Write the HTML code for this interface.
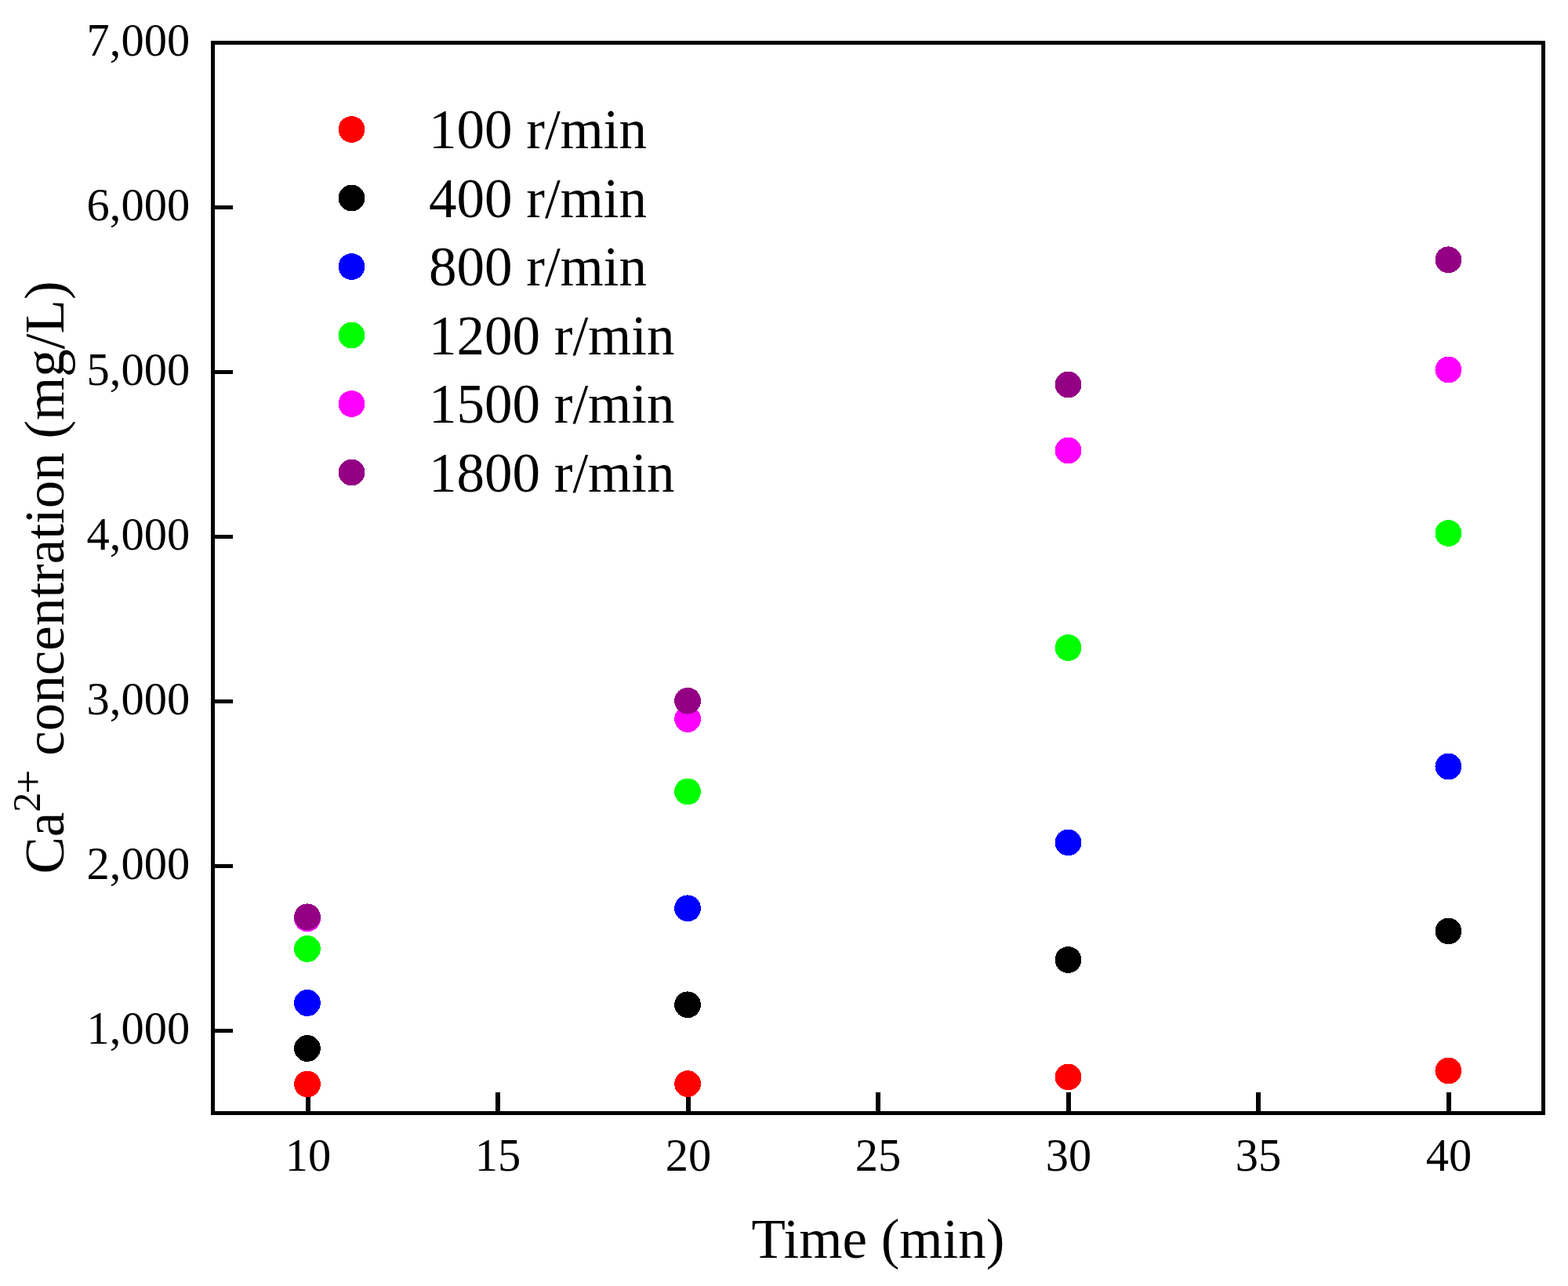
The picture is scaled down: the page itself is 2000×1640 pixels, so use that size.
<!DOCTYPE html>
<html><head><meta charset="utf-8"><title>Ca2+ concentration vs time</title>
<style>html,body{margin:0;padding:0;background:#fff;}svg{display:block;}text{font-family:"Liberation Serif","Times New Roman",serif;fill:#000;}</style></head><body>
<svg width="2000" height="1640" viewBox="0 0 2000 1640">
<rect x="0" y="0" width="2000" height="1640" fill="#fff"/>
<g fill="#000" shape-rendering="crispEdges">
<rect x="269" y="52" width="1702" height="5"/>
<rect x="269" y="1417" width="1702" height="5"/>
<rect x="269" y="52" width="5" height="1370"/>
<rect x="1966" y="52" width="5" height="1370"/>
<rect x="390" y="1393" width="6" height="24"/>
<rect x="632" y="1393" width="6" height="24"/>
<rect x="875" y="1393" width="6" height="24"/>
<rect x="1117" y="1393" width="6" height="24"/>
<rect x="1360" y="1393" width="6" height="24"/>
<rect x="1602" y="1393" width="6" height="24"/>
<rect x="1845" y="1393" width="6" height="24"/>
<rect x="274" y="262" width="23" height="5"/>
<rect x="274" y="472" width="23" height="5"/>
<rect x="274" y="682" width="23" height="5"/>
<rect x="274" y="892" width="23" height="5"/>
<rect x="274" y="1102" width="23" height="5"/>
<rect x="274" y="1312" width="23" height="5"/>
</g>
<g shape-rendering="crispEdges">
<circle cx="392.0" cy="1382.5" r="16.9" fill="#ff0000"/>
<circle cx="877.1" cy="1382.1" r="16.9" fill="#ff0000"/>
<circle cx="1362.5" cy="1373.4" r="16.9" fill="#ff0000"/>
<circle cx="1847.4" cy="1365.5" r="16.9" fill="#ff0000"/>
<circle cx="392.0" cy="1337.0" r="16.9" fill="#000000"/>
<circle cx="877.1" cy="1281.3" r="16.9" fill="#000000"/>
<circle cx="1362.5" cy="1224.0" r="16.9" fill="#000000"/>
<circle cx="1847.4" cy="1187.4" r="16.9" fill="#000000"/>
<circle cx="392.0" cy="1279.0" r="16.9" fill="#0000ff"/>
<circle cx="877.1" cy="1158.3" r="16.9" fill="#0000ff"/>
<circle cx="1362.5" cy="1074.4" r="16.9" fill="#0000ff"/>
<circle cx="1847.4" cy="977.5" r="16.9" fill="#0000ff"/>
<circle cx="392.0" cy="1210.0" r="16.9" fill="#00ff00"/>
<circle cx="877.1" cy="1009.5" r="16.9" fill="#00ff00"/>
<circle cx="1362.5" cy="826.0" r="16.9" fill="#00ff00"/>
<circle cx="1847.4" cy="680.0" r="16.9" fill="#00ff00"/>
<circle cx="392.0" cy="1171.4" r="16.9" fill="#ff00ff"/>
<circle cx="877.1" cy="917.0" r="16.9" fill="#ff00ff"/>
<circle cx="1362.5" cy="574.5" r="16.9" fill="#ff00ff"/>
<circle cx="1847.4" cy="471.5" r="16.9" fill="#ff00ff"/>
<circle cx="392.0" cy="1169.3" r="16.9" fill="#940084"/>
<circle cx="877.1" cy="893.7" r="16.9" fill="#940084"/>
<circle cx="1362.5" cy="490.5" r="16.9" fill="#940084"/>
<circle cx="1847.4" cy="331.3" r="16.9" fill="#940084"/>
</g>
<text x="393" y="1493" font-size="58.5" text-anchor="middle">10</text>
<text x="635" y="1493" font-size="58.5" text-anchor="middle">15</text>
<text x="878" y="1493" font-size="58.5" text-anchor="middle">20</text>
<text x="1120" y="1493" font-size="58.5" text-anchor="middle">25</text>
<text x="1363" y="1493" font-size="58.5" text-anchor="middle">30</text>
<text x="1605" y="1493" font-size="58.5" text-anchor="middle">35</text>
<text x="1848" y="1493" font-size="58.5" text-anchor="middle">40</text>
<text x="242.2" y="71.0" font-size="58.5" text-anchor="end">7,000</text>
<text x="242.2" y="281.0" font-size="58.5" text-anchor="end">6,000</text>
<text x="242.2" y="491.0" font-size="58.5" text-anchor="end">5,000</text>
<text x="242.2" y="701.0" font-size="58.5" text-anchor="end">4,000</text>
<text x="242.2" y="911.0" font-size="58.5" text-anchor="end">3,000</text>
<text x="242.2" y="1121.0" font-size="58.5" text-anchor="end">2,000</text>
<text x="242.2" y="1331.0" font-size="58.5" text-anchor="end">1,000</text>
<circle cx="448.5" cy="165.0" r="16.9" fill="#ff0000" shape-rendering="crispEdges"/>
<text x="547" y="189.0" font-size="71">100 r/min</text>
<circle cx="448.5" cy="252.5" r="16.9" fill="#000000" shape-rendering="crispEdges"/>
<text x="547" y="276.5" font-size="71">400 r/min</text>
<circle cx="448.5" cy="340.0" r="16.9" fill="#0000ff" shape-rendering="crispEdges"/>
<text x="547" y="364.0" font-size="71">800 r/min</text>
<circle cx="448.5" cy="427.5" r="16.9" fill="#00ff00" shape-rendering="crispEdges"/>
<text x="547" y="451.5" font-size="71">1200 r/min</text>
<circle cx="448.5" cy="515.0" r="16.9" fill="#ff00ff" shape-rendering="crispEdges"/>
<text x="547" y="539.0" font-size="71">1500 r/min</text>
<circle cx="448.5" cy="602.5" r="16.9" fill="#940084" shape-rendering="crispEdges"/>
<text x="547" y="626.5" font-size="71">1800 r/min</text>
<text x="1120" y="1603.5" font-size="71" text-anchor="middle">Time (min)</text>
<text transform="translate(80.5 1114.5) rotate(-90)" x="0" y="0" font-size="71">Ca<tspan font-size="50.6" dy="-29.3">2</tspan><tspan font-size="55" dx="-2.1" dy="2.5">+</tspan><tspan dy="26.8"> concentration (mg/L)</tspan></text>
</svg></body></html>
